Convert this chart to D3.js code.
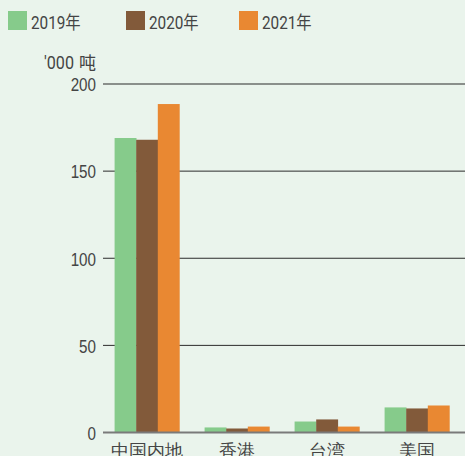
<!DOCTYPE html>
<html>
<head>
<meta charset="utf-8">
<script src="https://cdn.jsdelivr.net/npm/d3@7"></script>
<style>
  html, body { margin:0; padding:0; background:#eaf4ec; }
  svg { display:block; font-family:"Roboto","Noto Sans CJK SC",sans-serif; }
</style>
</head>
<body>
<div id="chart"></div>
<script>
// 数据
const categories = ['中国内地', '香港', '台湾', '美国'];
const years      = ['2019年', '2020年', '2021年'];
const v2019      = [169, 2.9, 6.3, 14.4];
const v2020      = [168, 2.3, 7.5, 13.8];
const v2021      = [188.5, 3.4, 3.4, 15.5];
const yTicks     = [0, 50, 100, 150, 200];
const unitNum    = "'000";
const unitChar   = '吨';
const colors     = ['#86cb8b', '#825a3a', '#e98832'];

const W = 465, H = 456;
const series = [v2019, v2020, v2021];
const squeeze = 'scale(0.8,1)'; // schmale Schrift nachbilden

const svg = d3.select('#chart').append('svg')
  .attr('width', W).attr('height', H);

const x = d3.scaleBand()
  .domain(categories)
  .range([102, 462])
  .paddingInner(0.28)
  .paddingOuter(0.14);
const xs = d3.scaleBand()
  .domain(d3.range(years.length))
  .range([0, x.bandwidth()]);
const y = d3.scaleLinear().domain([0, 200]).range([432.5, 84]);

// Gitterlinien
svg.append('g')
  .selectAll('line')
  .data(yTicks.filter(d => d > 0))
  .join('line')
    .attr('x1', 103).attr('x2', W)
    .attr('y1', d => y(d)).attr('y2', d => y(d))
    .attr('stroke', '#2b2b2b').attr('stroke-width', 1);

// Achse links (nur Text)
const yAxis = svg.append('g')
  .attr('transform', 'translate(96,0)')
  .call(d3.axisLeft(y).tickValues(yTicks).tickSize(0).tickPadding(0));
yAxis.select('.domain').remove();
yAxis.selectAll('text')
  .attr('x', 0).attr('dy', '0.36em')
  .attr('transform', squeeze)
  .attr('font-size', 19).attr('fill', '#444');

// Einheit
svg.append('text')
  .attr('transform', `translate(74,69) scale(0.85,1)`)
  .attr('text-anchor', 'end')
  .attr('font-size', 19).attr('fill', '#444')
  .text(unitNum);
svg.append('text')
  .attr('x', 96).attr('y', 69)
  .attr('text-anchor', 'end')
  .attr('font-size', 17).attr('fill', '#444')
  .text(unitChar);

// Balken
categories.forEach((c, ci) => {
  series.forEach((s, si) => {
    svg.append('rect')
      .attr('x', x(c) + xs(si))
      .attr('y', y(s[ci]))
      .attr('width', xs.bandwidth() + 0.3)
      .attr('height', y(0) - y(s[ci]))
      .attr('fill', colors[si]);
  });
});

// Nulllinie
svg.append('line')
  .attr('x1', 103).attr('x2', W)
  .attr('y1', y(0)).attr('y2', y(0))
  .attr('stroke', '#7a7a7a').attr('stroke-width', 2);

// Kategorien
const xAxis = svg.append('g')
  .attr('transform', `translate(0,${y(0)})`)
  .call(d3.axisBottom(x).tickSize(0).tickPadding(0));
xAxis.select('.domain').remove();
xAxis.selectAll('text')
  .attr('dy', null).attr('y', 24)
  .attr('font-size', 18).attr('fill', '#444');

// Legende
const legX = [8, 126, 239];
const leg = svg.append('g');
years.forEach((yr, i) => {
  leg.append('rect')
    .attr('x', legX[i]).attr('y', 11)
    .attr('width', 19).attr('height', 19)
    .attr('fill', colors[i]);
  leg.append('text')
    .attr('transform', `translate(${legX[i] + 23},28.5) scale(0.85,1)`)
    .attr('font-size', 18).attr('fill', '#444')
    .text(yr);
});
</script>
</body>
</html>
